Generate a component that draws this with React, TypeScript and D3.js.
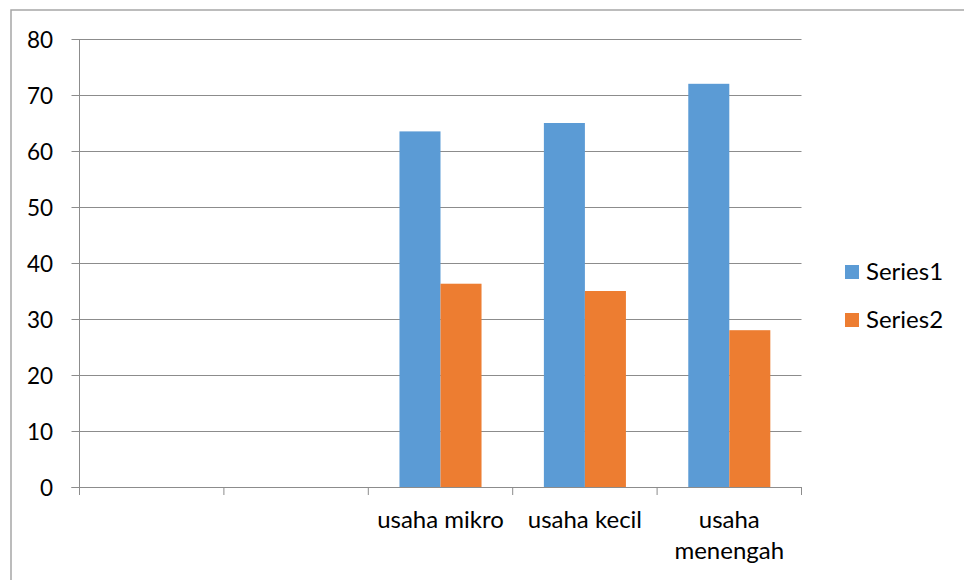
import React, { useEffect, useRef } from 'react';
import * as d3 from 'd3';

// categories (first two are empty slots in the source sheet)
const categories: string[][] = [[''], [' '], ['usaha mikro'], ['usaha kecil'], ['usaha', 'menengah']];
const seriesNames = ['Series1', 'Series2'];
const series1: (number | null)[] = [null, null, 63.5, 65, 72];
const series2: (number | null)[] = [null, null, 36.3, 35, 28];
const yTicks = [0, 10, 20, 30, 40, 50, 60, 70, 80];
const colors = ['#5B9BD5', '#ED7D31'];

const App: React.FC = () => {
    const svgRef = useRef<SVGSVGElement>(null);

    useEffect(() => {
        if (!svgRef.current) return;
        const svg = d3.select(svgRef.current);
        svg.selectAll('*').remove();

        const font = 'Lato, "Open Sans", sans-serif';
        const left = 79.5, right = 801.5, top = 39, bottom = 487;
        const grid = '#8c8c8c';

        // outer chart frame
        svg.append('rect')
            .attr('x', 11).attr('y', 10)
            .attr('width', 1000).attr('height', 1000)
            .attr('fill', 'white')
            .attr('stroke', '#a6a6a6').attr('stroke-width', 1.5);

        const y = d3.scaleLinear().domain([0, 80]).range([bottom, top]);
        const keys = categories.map((_, i) => String(i));
        const x = d3.scaleBand<string>().domain(keys).range([left, right]).padding(0);
        const inner = d3.scaleBand<string>()
            .domain(seriesNames)
            .range([0, x.bandwidth()])
            .paddingInner(0)
            .paddingOuter(0.76);

        // gridlines + y labels
        yTicks.forEach(t => {
            const yy = Math.round(y(t)) + 0.5;
            svg.append('line')
                .attr('x1', left - 8).attr('x2', right)
                .attr('y1', yy).attr('y2', yy)
                .attr('stroke', grid).attr('stroke-width', 1);
            svg.append('text')
                .attr('x', 53).attr('y', yy + 8)
                .attr('text-anchor', 'end')
                .attr('font-family', font).attr('font-size', 22.5)
                .attr('fill', '#000')
                .text(t);
        });

        // y axis line
        svg.append('line')
            .attr('x1', left).attr('x2', left)
            .attr('y1', top).attr('y2', bottom + 7)
            .attr('stroke', grid);

        // bars
        const data = [series1, series2];
        data.forEach((vals, si) => {
            svg.append('g').selectAll('rect')
                .data(vals.map((v, i) => ({ v, i })).filter(d => d.v !== null))
                .join('rect')
                .attr('x', d => (x(keys[d.i]) as number) + (inner(seriesNames[si]) as number))
                .attr('y', d => y(d.v as number))
                .attr('width', inner.bandwidth())
                .attr('height', d => bottom - y(d.v as number))
                .attr('fill', colors[si]);
        });

        // x axis line and ticks
        svg.append('line')
            .attr('x1', left - 8).attr('x2', right)
            .attr('y1', bottom + 0.5).attr('y2', bottom + 0.5)
            .attr('stroke', grid);
        keys.concat(['end']).forEach((k, i) => {
            const xx = i < keys.length ? (x(k) as number) : right;
            svg.append('line')
                .attr('x1', xx).attr('x2', xx)
                .attr('y1', bottom).attr('y2', bottom + 8)
                .attr('stroke', grid);
        });

        // category labels
        categories.forEach((lines, i) => {
            const cx = (x(keys[i]) as number) + x.bandwidth() / 2;
            const t = svg.append('text')
                .attr('text-anchor', 'middle')
                .attr('font-family', font).attr('font-size', 24)
                .attr('fill', '#000');
            lines.forEach((ln, li) => {
                t.append('tspan').attr('x', cx).attr('y', 528 + li * 31).text(ln.trim());
            });
        });

        // legend
        seriesNames.forEach((name, i) => {
            const ly = 265 + i * 48;
            svg.append('rect')
                .attr('x', 845).attr('y', ly)
                .attr('width', 14).attr('height', 14)
                .attr('fill', colors[i]);
            svg.append('text')
                .attr('x', 866).attr('y', ly + 15)
                .attr('font-family', font).attr('font-size', 24)
                .attr('fill', '#000')
                .text(name);
        });
    }, []);

    return (
        <svg ref={svgRef} width={964} height={580}
            style={{ position: 'absolute', left: 0, top: 0, background: 'white' }} />
    );
};

export default App;
